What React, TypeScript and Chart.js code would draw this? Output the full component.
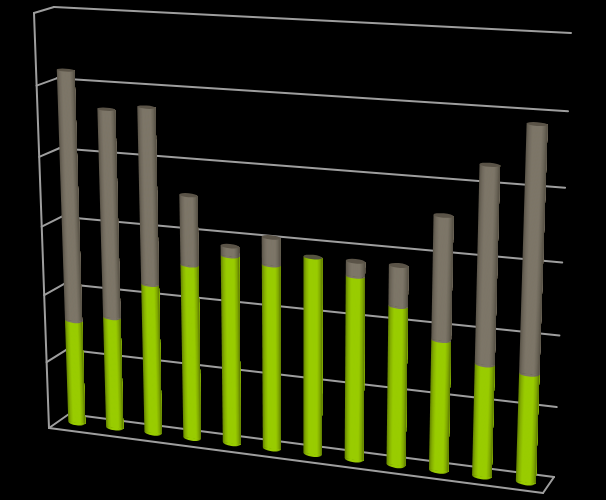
import React, { useEffect, useRef } from "react";
import { Chart, registerables } from "chart.js";

Chart.register(...registerables);

const categories = ["1", "2", "3", "4", "5", "6", "7", "8", "9", "10", "11", "12"];
const greenValues = [15.5, 16.6, 22.1, 25.5, 27.4, 26.7, 28.4, 26.3, 22.7, 18.6, 15.9, 15.3];
const grayValues = [36.3, 30.1, 25.3, 10.0, 1.4, 3.9, 0, 2.1, 5.7, 17.2, 27.2, 33.6];
const yMax = 60;
const yStep = 10;

type P = [number, number];
const backQuad: P[] = [[69, 414], [554, 477], [571, 33], [54, 7]];
const frontQuad: P[] = [[49, 428], [543, 493], [560, 41], [34, 13]];
const barQuad: P[] = [[58, 420], [548, 485], [563.5, 39], [44, 10]];

function homography(q: P[]) {
  const [[x0, y0], [x1, y1], [x2, y2], [x3, y3]] = q;
  const dx1 = x1 - x2, dx2 = x3 - x2, sx = x0 - x1 + x2 - x3;
  const dy1 = y1 - y2, dy2 = y3 - y2, sy = y0 - y1 + y2 - y3;
  const den = dx1 * dy2 - dx2 * dy1;
  const g = (sx * dy2 - dx2 * sy) / den;
  const h = (dx1 * sy - sx * dy1) / den;
  const a = x1 - x0 + g * x1, b = x3 - x0 + h * x3, c = x0;
  const d = y1 - y0 + g * y1, e = y3 - y0 + h * y3, f = y0;
  return (u: number, v: number): P => {
    const w = g * u + h * v + 1;
    return [(a * u + b * v + c) / w, (d * u + e * v + f) / w];
  };
}
const hBack = homography(backQuad);
const hFront = homography(frontQuad);
const hBar = homography(barQuad);

const GREEN_STOPS: [number, number[]][] = [[0, [100, 130, 0]], [0.14, [134, 176, 0]], [0.3, [153, 204, 0]], [0.72, [153, 204, 0]], [0.88, [128, 168, 0]], [1, [92, 120, 0]]];
const GRAY_STOPS: [number, number[]][] = [[0, [90, 84, 72]], [0.14, [112, 105, 92]], [0.3, [125, 118, 104]], [0.72, [125, 118, 104]], [0.88, [106, 100, 87]], [1, [84, 78, 67]]];

function shade(stops: [number, number[]][], t: number): string {
  for (let i = 1; i < stops.length; i++) {
    if (t <= stops[i][0]) {
      const [t0, c0] = stops[i - 1];
      const [t1, c1] = stops[i];
      const k = (t - t0) / (t1 - t0);
      return `rgb(${c0.map((c, j) => Math.round(c + (c1[j] - c) * k)).join(",")})`;
    }
  }
  return "rgb(0,0,0)";
}

function ellipseAt(u0: number, u1: number, v: number) {
  const l = hBar(u0, v), r = hBar(u1, v);
  const um = (u0 + u1) / 2;
  const c = hBar(um, v);
  const ry = 0.2 * Math.abs(hFront(um, v)[1] - hBack(um, v)[1]);
  const rx = Math.hypot(r[0] - l[0], r[1] - l[1]) / 2;
  const rot = Math.atan2(r[1] - l[1], r[0] - l[0]);
  return { c, rx, ry, rot, l, r };
}

function drawSegment(ctx: CanvasRenderingContext2D, u0: number, u1: number, vBase: number, vTop: number, stops: [number, number[]][], cap: string | null) {
  const N = 24;
  const b = ellipseAt(u0, u1, vBase);
  const grad = ctx.createLinearGradient(b.l[0], b.l[1], b.r[0], b.r[1]);
  stops.forEach(([t, c]) => grad.addColorStop(t, `rgb(${c.join(",")})`));
  ctx.fillStyle = grad;
  ctx.beginPath();
  ctx.ellipse(b.c[0], b.c[1], b.rx, b.ry, b.rot, 0, Math.PI * 2);
  ctx.fill();
  for (let s = 0; s < N; s++) {
    const a = u0 + ((u1 - u0) * s) / N;
    const p = [hBar(a, vBase), hBar(u1, vBase), hBar(u1, vTop), hBar(a, vTop)];
    ctx.fillStyle = shade(stops, (s + 0.5) / N);
    ctx.beginPath();
    ctx.moveTo(p[0][0], p[0][1]);
    p.slice(1).forEach((q) => ctx.lineTo(q[0], q[1]));
    ctx.closePath();
    ctx.fill();
  }
  if (cap) {
    const t = ellipseAt(u0, u1, vTop);
    ctx.fillStyle = cap;
    ctx.beginPath();
    ctx.ellipse(t.c[0], t.c[1], t.rx, t.ry, t.rot, 0, Math.PI * 2);
    ctx.fill();
  }
}

const perspectivePlugin = {
  id: "perspective",
  beforeDatasetsDraw(chart: any) {
    const { ctx, scales } = chart;
    const xs = scales.x, ys = scales.y;
    const toU = (px: number) => (px - xs.left) / (xs.right - xs.left);
    const toV = (py: number) => (ys.bottom - py) / (ys.bottom - ys.top);

    ctx.save();
    ctx.strokeStyle = "#9e9e9e";
    ctx.lineWidth = 2;
    ctx.lineCap = "round";
    const line = (a: P, b: P) => {
      ctx.beginPath();
      ctx.moveTo(a[0], a[1]);
      ctx.lineTo(b[0], b[1]);
      ctx.stroke();
    };
    ys.ticks.forEach((_: any, i: number) => {
      const v = toV(ys.getPixelForTick(i));
      line(hBack(0, v), hBack(1, v));
      line(hFront(0, v), hBack(0, v));
    });
    line(hFront(0, 0), hFront(0, 1));
    line(hFront(0, 0), hFront(1, 0));
    line(hFront(1, 0), hBack(1, 0));

    const green = chart.getDatasetMeta(0).data;
    const gray = chart.getDatasetMeta(1).data;
    green.forEach((el: any, i: number) => {
      const u0 = toU(el.x - el.width / 2);
      const u1 = toU(el.x + el.width / 2);
      const g = gray[i];
      const hasGray = grayValues[i] > 0;
      drawSegment(ctx, u0, u1, toV(el.base), toV(el.y), GREEN_STOPS, hasGray ? null : "#55533f");
      if (hasGray) drawSegment(ctx, u0, u1, toV(g.base), toV(g.y), GRAY_STOPS, "#5a5347");
    });
    ctx.restore();
    return false;
  },
};

export default function App() {
  const ref = useRef<HTMLCanvasElement>(null);
  useEffect(() => {
    document.body.style.margin = "0";
    document.body.style.background = "#000";
    const chart = new Chart(ref.current!, {
      type: "bar",
      data: {
        labels: categories,
        datasets: [
          { label: "A", data: greenValues, backgroundColor: "#99cc00", barPercentage: 0.45, categoryPercentage: 1 },
          { label: "B", data: grayValues, backgroundColor: "#7d7668", barPercentage: 0.45, categoryPercentage: 1 },
        ],
      },
      options: {
        animation: false,
        responsive: false,
        devicePixelRatio: 1,
        layout: { padding: 0 },
        plugins: { legend: { display: false }, tooltip: { enabled: false } },
        scales: {
          x: { stacked: true, display: true, grid: { display: false }, border: { display: false }, ticks: { display: false } },
          y: { stacked: true, min: 0, max: yMax, grid: { display: false }, border: { display: false }, ticks: { display: false, stepSize: yStep } },
        },
      },
      plugins: [perspectivePlugin],
    } as any);
    return () => chart.destroy();
  }, []);
  return <canvas ref={ref} width={606} height={500} style={{ display: "block", background: "#000" }} />;
}
